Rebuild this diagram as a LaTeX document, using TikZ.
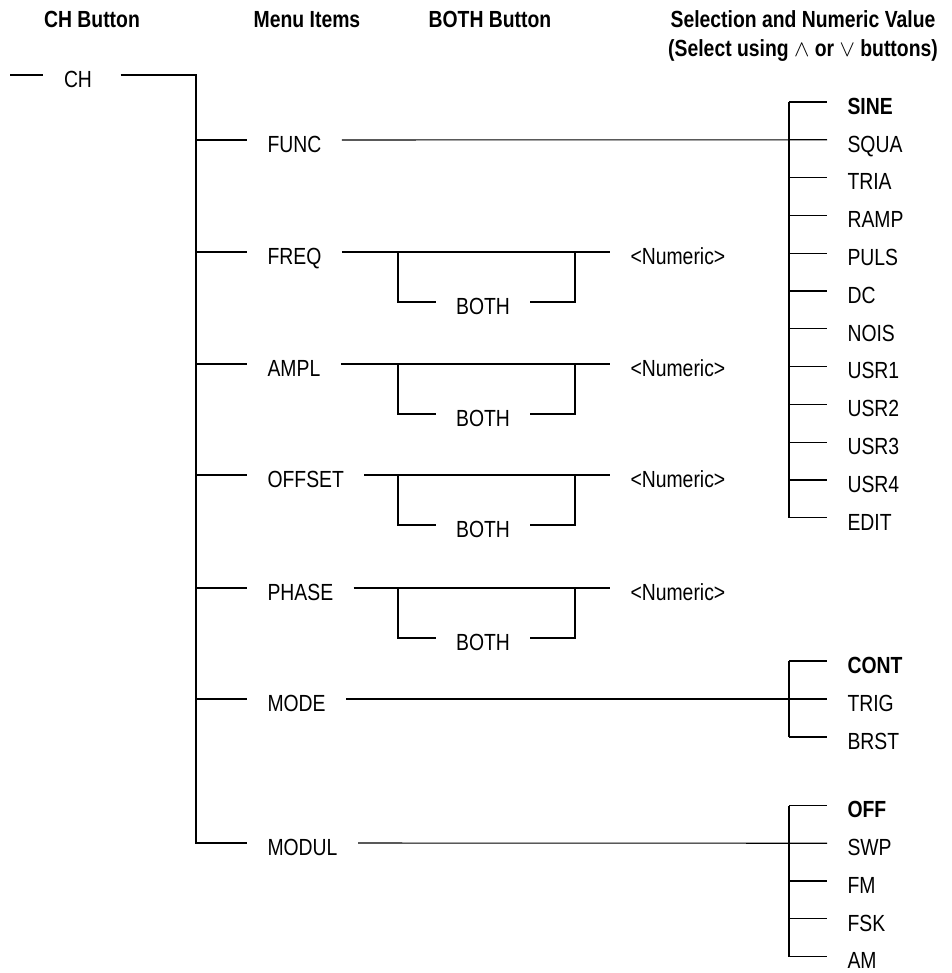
\documentclass[tikz,border=0pt]{standalone}
\usepackage{fontspec}
\setmainfont{Liberation Sans}[FakeStretch=0.83]
\begin{document}
\begin{tikzpicture}[x=0.75pt, y=-0.75pt, line width=0.8pt,
    lbl/.style={font=\fontsize{17.5}{19}\selectfont, inner xsep=15pt, inner ysep=0pt, text height=18.5pt, text depth=0pt},
    item/.style={lbl, anchor=west},
    head/.style={font=\bfseries\fontsize{17.5}{21.75}\selectfont, anchor=base, align=center, inner sep=0pt}
  ]
  \useasboundingbox (0,0) rectangle (951,973);

  % column headings
  \node[head] (hch) at (92,28) {CH Button};
  \node[head] (hmenu) at (307,28) {Menu Items};
  \node[head] (hboth) at (490,28) {BOTH Button};
  \node[head] (hsel) at (803,57) {Selection and Numeric Value\\(Select using $\wedge$ or $\vee$ buttons)};

  % CH button and main trunk
  \coordinate (chin) at (10,75);
  \node[lbl] (ch) at (78,75) {CH};
  \coordinate (top) at (196,75);
  \coordinate (bus) at (789,0);
  \node[item] (func) at (247,140) {FUNC};
  \node[item] (mode) at (247,699) {MODE};
  \node[item] (modul) at (247,843) {MODUL};
  \draw (chin) -- (ch.west);
  \draw ([xshift=6pt]ch.east) -- (top) |- (modul.west);
  \draw (top |- func.west) -- (func.west);
  \draw (top |- mode.west) -- (mode.west);

  % numeric items with BOTH loop
  \foreach \nm/\txt/\y in {freq/FREQ/252, ampl/AMPL/364, offs/OFFSET/475, phase/PHASE/588} {
    \node[item] (\nm) at (247,\y) {\txt};
    \node[item] (\nm-num) at (610,\y) {<Numeric>};
    \node[lbl] (\nm-both) at (483,\y+50) {BOTH};
    \coordinate (\nm-l) at (398,\y);
    \coordinate (\nm-r) at (575,\y);
    \draw (top |- \nm.west) -- (\nm.west);
    \draw (\nm.east) -- (\nm-num.west);
    \draw (\nm-l) |- (\nm-both.west);
    \draw (\nm-both.east) -| (\nm-r);
  }

  % FUNC selections
  \foreach \nm/\txt [count=\i from 0] in {sine/\textbf{SINE}, squa/SQUA, tria/TRIA, ramp/RAMP, puls/PULS, dc/DC, nois/NOIS, usra/USR1, usrb/USR2, usrc/USR3, usrd/USR4, edit/EDIT} {
    \node[item] (\nm) at (827,{102+37.8*\i}) {\txt};
    \draw (\nm.west -| bus) -- (\nm.west);
  }
  \draw (sine.west -| bus) -- (edit.west -| bus);
  \draw (func.east) -- (squa.west);

  % MODE selections
  \foreach \nm/\txt [count=\i from 0] in {cont/\textbf{CONT}, trig/TRIG, brst/BRST} {
    \node[item] (\nm) at (827,{661+38*\i}) {\txt};
    \draw (\nm.west -| bus) -- (\nm.west);
  }
  \draw (cont.west -| bus) -- (brst.west -| bus);
  \draw (mode.east) -- (trig.west);

  % MODUL selections
  \foreach \nm/\txt [count=\i from 0] in {off/\textbf{OFF}, swp/SWP, fm/FM, fsk/FSK, am/AM} {
    \node[item] (\nm) at (827,{805.5+37.75*\i}) {\txt};
    \draw (\nm.west -| bus) -- (\nm.west);
  }
  \draw (off.west -| bus) -- (am.west -| bus);
  \draw (modul.east) -- (swp.west);
\end{tikzpicture}
\end{document}
